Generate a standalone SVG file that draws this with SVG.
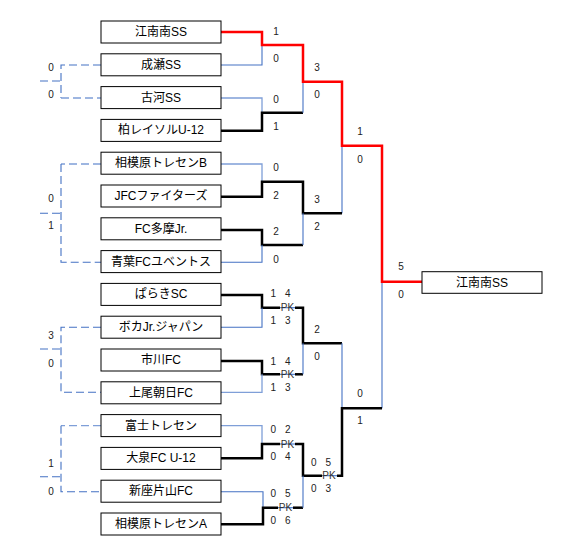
<svg xmlns="http://www.w3.org/2000/svg" width="580" height="556" viewBox="0 0 580 556">
<style>
.box{fill:#fff;stroke:#000;stroke-width:1}
.name{font-family:"Liberation Sans","Noto Sans CJK JP",sans-serif;font-size:12px;fill:#000;text-anchor:middle}
.sc{font-family:"Liberation Sans","Noto Sans CJK JP",sans-serif;font-size:10px;fill:#222;text-anchor:middle}
.pk{font-family:"Liberation Sans","Noto Sans CJK JP",sans-serif;font-size:10px;fill:#333;text-anchor:middle}
.red{fill:none;stroke:#ff0000;stroke-width:2.5}
.win{fill:none;stroke:#000;stroke-width:2.5}
.lose{fill:none;stroke:#4472c4;stroke-width:1.1}
.lose2{fill:none;stroke:#7f9fd8;stroke-width:1.3}
.dash{fill:none;stroke:#4472c4;stroke-width:1.1;stroke-dasharray:8 4}
.dash2{fill:none;stroke:#7f9fd8;stroke-width:1.3;stroke-dasharray:8 4}
</style>
<rect width="580" height="556" fill="#fff"/>
<g id="connectors">
<path class="lose" d="M221,65 H262 V45"/>
<path class="lose2" d="M221,98 H262 V112.7"/>
<path class="win" d="M221,130.7 H262 V112.7 H303"/>
<path class="lose" d="M303,112.7 V81.7"/>
<path class="lose" d="M342,145.7 V213.3"/>
<path class="lose2" d="M221,164 H262 V181.7"/>
<path class="win" d="M221,196.7 H262 V181.7 H303 V213.3 H342"/>
<path class="win" d="M221,230 H262 V245 H303"/>
<path class="lose" d="M303,245 V213.3"/>
<path class="lose" d="M221,262.3 H262 V245"/>
<path class="lose" d="M382,281.7 V408.3"/>
<path class="win" d="M221,295 H262 V307.7 H280"/>
<path class="lose" d="M280,307.7 H295"/>
<path class="win" d="M295,307.7 H303 V343.3 H342"/>
<path class="lose" d="M221,327.3 H262 V307.7"/>
<path class="lose" d="M342,343.3 V408.3"/>
<path class="win" d="M221,361 H262 V374.3 H280"/>
<path class="lose" d="M280,374.3 H295"/>
<path class="win" d="M295,374.3 H303"/>
<path class="lose" d="M303,374.3 V343.3"/>
<path class="lose2" d="M221,392.3 H262 V374.3"/>
<path class="lose2" d="M221,425.7 H262 V444"/>
<path class="win" d="M221,458.3 H262 V444 H280"/>
<path class="lose" d="M280,444 H295"/>
<path class="win" d="M295,444 H303 V475.7 H322"/>
<path class="lose" d="M322,475.7 H337"/>
<path class="win" d="M337,475.7 H342 V408.3 H382"/>
<path class="lose" d="M221,491.7 H263 V507.7"/>
<path class="win" d="M221,524.3 H263 V507.7 H278"/>
<path class="lose" d="M278,507.7 H293"/>
<path class="win" d="M293,507.7 H303"/>
<path class="lose" d="M303,507.7 V475.7"/>
<path class="red" d="M221,32 H262 V45 H303 V81.7 H342 V145.7 H382 V281.7 H422"/>
<path class="dash" d="M101,65 H61 V81 V98"/>
<path class="dash2" d="M61,98 H101"/>
<path class="dash" d="M40,81 H61"/>
<path class="dash2" d="M101,164 H61"/>
<path class="dash" d="M61,164 V262.3 H101"/>
<path class="dash" d="M40,213.3 H61"/>
<path class="dash" d="M101,327.3 H61 V392.3 H101"/>
<path class="dash" d="M40,349 H61"/>
<path class="dash2" d="M101,425.7 H61"/>
<path class="dash" d="M61,425.7 V491.7 H101"/>
<path class="dash" d="M40,476.7 H61"/>
</g>
<g id="team1"><rect class="box" x="101" y="21" width="120" height="22"/><text class="name" x="161" y="36">江南南SS</text></g>
<g id="team2"><rect class="box" x="101" y="53.8" width="120" height="22"/><text class="name" x="161" y="68.8">成瀬SS</text></g>
<g id="team3"><rect class="box" x="101" y="86.6" width="120" height="22"/><text class="name" x="161" y="101.6">古河SS</text></g>
<g id="team4"><rect class="box" x="101" y="119.4" width="120" height="22"/><text class="name" x="161" y="134.4">柏レイソルU-12</text></g>
<g id="team5"><rect class="box" x="101" y="152.2" width="120" height="22"/><text class="name" x="161" y="167.2">相模原トレセンB</text></g>
<g id="team6"><rect class="box" x="101" y="185" width="120" height="22"/><text class="name" x="161" y="200">JFCファイターズ</text></g>
<g id="team7"><rect class="box" x="101" y="217.8" width="120" height="22"/><text class="name" x="161" y="232.8">FC多摩Jr.</text></g>
<g id="team8"><rect class="box" x="101" y="250.6" width="120" height="22"/><text class="name" x="161" y="265.6">青葉FCユベントス</text></g>
<g id="team9"><rect class="box" x="101" y="283.4" width="120" height="22"/><text class="name" x="161" y="298.4">ぱらきSC</text></g>
<g id="team10"><rect class="box" x="101" y="316.2" width="120" height="22"/><text class="name" x="161" y="331.2">ボカJr.ジャパン</text></g>
<g id="team11"><rect class="box" x="101" y="349" width="120" height="22"/><text class="name" x="161" y="364">市川FC</text></g>
<g id="team12"><rect class="box" x="101" y="381.8" width="120" height="22"/><text class="name" x="161" y="396.8">上尾朝日FC</text></g>
<g id="team13"><rect class="box" x="101" y="414.6" width="120" height="22"/><text class="name" x="161" y="429.6">富士トレセン</text></g>
<g id="team14"><rect class="box" x="101" y="447.4" width="120" height="22"/><text class="name" x="161" y="462.4">大泉FC U-12</text></g>
<g id="team15"><rect class="box" x="101" y="480.2" width="120" height="22"/><text class="name" x="161" y="495.2">新座片山FC</text></g>
<g id="team16"><rect class="box" x="101" y="513" width="120" height="22"/><text class="name" x="161" y="528">相模原トレセンA</text></g>
<g id="champion"><rect class="box" x="422" y="271.7" width="120" height="21.6"/><text class="name" x="482" y="286.5">江南南SS</text></g>
<g id="scores">
<text class="sc" x="276" y="34.5">1</text><text class="sc" x="276" y="61.8">0</text>
<text class="sc" x="276" y="102.5">0</text><text class="sc" x="276" y="130.2">1</text>
<text class="sc" x="276" y="170.8">0</text><text class="sc" x="276" y="198.5">2</text>
<text class="sc" x="276" y="235.2">2</text><text class="sc" x="276" y="262.5">0</text>
<text class="sc" x="280.5" y="296.8" word-spacing="6">1 4</text><text class="sc" x="280.5" y="324.2" word-spacing="6">1 3</text>
<text class="sc" x="280.5" y="364.5" word-spacing="6">1 4</text><text class="sc" x="280.5" y="391.2" word-spacing="6">1 3</text>
<text class="sc" x="280.5" y="432.5" word-spacing="6">0 2</text><text class="sc" x="280.5" y="460.2" word-spacing="6">0 4</text>
<text class="sc" x="280.5" y="496.8" word-spacing="6">0 5</text><text class="sc" x="280.5" y="524.2" word-spacing="6">0 6</text>
<text class="pk" x="287.5" y="311.2">PK</text>
<text class="pk" x="287.5" y="377.8">PK</text>
<text class="pk" x="287.5" y="447.5">PK</text>
<text class="pk" x="285.5" y="511.2">PK</text>
<text class="sc" x="317" y="70.8">3</text><text class="sc" x="317" y="97.8">0</text>
<text class="sc" x="317" y="202.5">3</text><text class="sc" x="317" y="230.2">2</text>
<text class="sc" x="317" y="332.5">2</text><text class="sc" x="317" y="359.5">0</text>
<text class="sc" x="321" y="465.8" word-spacing="6">0 5</text><text class="sc" x="321" y="491.8" word-spacing="6">0 3</text>
<text class="pk" x="329" y="478.7">PK</text>
<text class="sc" x="360" y="135.2">1</text><text class="sc" x="360" y="162.5">0</text>
<text class="sc" x="360" y="396.5">0</text><text class="sc" x="360" y="424.2">1</text>
<text class="sc" x="401" y="270.2">5</text><text class="sc" x="401" y="297.5">0</text>
<text class="sc" x="51" y="70.8">0</text><text class="sc" x="51" y="97.8">0</text>
<text class="sc" x="51" y="201.8">0</text><text class="sc" x="51" y="229.2">1</text>
<text class="sc" x="51" y="338.5">3</text><text class="sc" x="51" y="366.8">0</text>
<text class="sc" x="51" y="466.8">1</text><text class="sc" x="51" y="494.5">0</text>
</g>
</svg>
